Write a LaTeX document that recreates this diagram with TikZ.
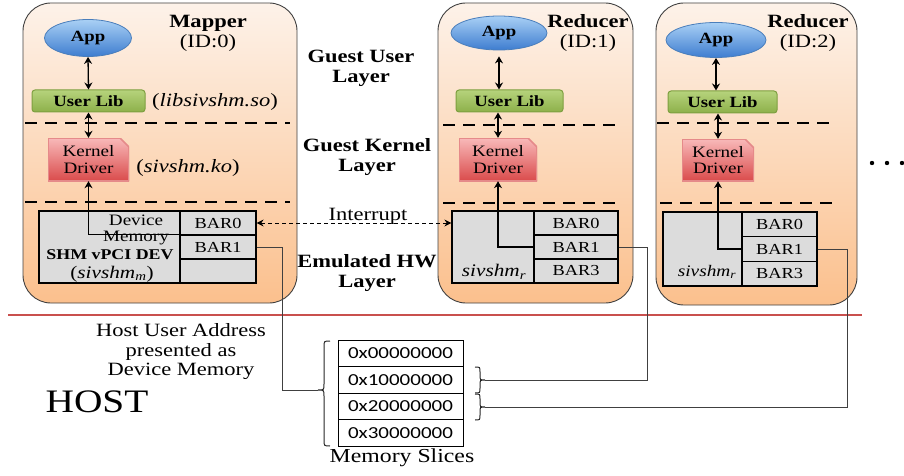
\documentclass[tikz,border=0pt]{standalone}
\usepackage{fontspec}
\setmainfont[FakeStretch=1.2]{Liberation Serif}
\newfontfamily\hexfont[FakeStretch=1.25]{Carlito}
\usetikzlibrary{arrows.meta,shapes.geometric}
\definecolor{boxtop}{HTML}{FDF2E9}
\definecolor{boxbot}{HTML}{FBC08D}
\definecolor{appt}{HTML}{A9D0F5}
\definecolor{appb}{HTML}{3E7DD0}
\definecolor{appd}{HTML}{4A7EBB}
\definecolor{ult}{HTML}{B6D37C}
\definecolor{ulb}{HTML}{8DB04A}
\definecolor{uld}{HTML}{7E9F40}
\definecolor{kdt}{HTML}{F8B9B9}
\definecolor{kdb}{HTML}{DA4B4B}
\definecolor{kdd}{HTML}{E58A8A}
\definecolor{devfill}{HTML}{DCDCDC}
\definecolor{redline}{HTML}{C9504E}
\definecolor{wirec}{HTML}{404040}
\newcommand\bigsz{\fontsize{18.75}{20}\selectfont}
\newcommand\midsz{\fontsize{15.9}{16.5}\selectfont}
\newcommand\barsz{\fontsize{15.3}{16}\selectfont}
\newcommand\appsz{\fontsize{15.6}{16}\selectfont}
\newcommand\hexsz{\fontsize{16.8}{18}\selectfont}
\begin{document}
\begin{tikzpicture}[x=1pt,y=-1pt,
  vm/.style={draw=black!75, line width=0.9pt, rounded corners=28pt, top color=boxtop, bottom color=boxbot, inner sep=0pt},
  app/.style={ellipse, draw=appd, line width=0.8pt, top color=appt, bottom color=appb, font=\appsz\bfseries, inner sep=0pt},
  ulib/.style={draw=uld, line width=1pt, rounded corners=3pt, top color=ult, bottom color=ulb, font=\appsz\bfseries, inner sep=0pt, minimum height=22pt},
  kdrv/.style={inner sep=0pt, align=center, font=\midsz,
    path picture={
      \shadedraw[top color=kdt, bottom color=kdb, draw=kdd, line width=1.6pt]
        (path picture bounding box.north west) -- ([xshift=-9pt]path picture bounding box.north east)
        -- ([yshift=-9pt]path picture bounding box.north east) -- (path picture bounding box.south east)
        -- (path picture bounding box.south west) -- cycle;
    }},
  devl/.style={draw, line width=1.2pt, fill=devfill, inner sep=0pt},
  barcell/.style={draw, line width=1.2pt, fill=devfill, inner sep=0pt, font=\barsz},
  layerline/.style={line width=2.6pt, dash pattern=on 12pt off 8pt},
  dbl/.style={{Stealth[length=7pt,width=8pt]}-{Stealth[length=7pt,width=8pt]}, line width=1.3pt},
  upar/.style={-{Stealth[length=7pt,width=8pt]}, line width=1.1pt},
  intr/.style={{Stealth[length=7pt,width=7pt]}-{Stealth[length=7pt,width=7pt]}, dash pattern=on 4pt off 3pt, line width=0.9pt},
  wire/.style={line width=1pt, draw=wirec},
  brace/.style={line width=1pt, draw=black!85},
  hexcell/.style={draw, line width=0.9pt, inner sep=0pt, minimum width=125pt, minimum height=26.5pt, font=\hexfont\hexsz}
]
\useasboundingbox (0,0) rectangle (904,476);

% ---------- Mapper ----------
\node[vm, minimum width=274, minimum height=300] (vmM) at (160,153) {};
\draw[layerline] (25,123) -- (290,123);
\draw[layerline] (25,202) -- (290,202);
\node[app, minimum width=87, minimum height=37] (appM) at (88,38) {App};
\node[ulib, minimum width=113] (ulM) at (88.5,101) {User Lib};
\node[kdrv, minimum width=81, minimum height=43] (kdM) at (88.5,159.5) {Kernel\\Driver};
\node[devl, minimum width=141, minimum height=72] (devM) at (109.5,247) {};
\node[barcell, minimum width=76, minimum height=24] (b0M) at (218,223) {BAR0};
\node[barcell, minimum width=76, minimum height=24] (b1M) at (218,247) {BAR1};
\node[barcell, minimum width=76, minimum height=24] (b2M) at (218,271) {};
\node[font=\midsz, align=center] (dmM) at (136,230) {Device\\Memory};
\node[font=\fontsize{14.9}{16}\selectfont\bfseries] (shmM) at (110,255) {SHM vPCI DEV};
\node[font=\fontsize{17.7}{18}\selectfont] (sivM) at (112,274) {(\textit{sivshm}\textsubscript{\textit{m}})};
\node[font=\bigsz, align=center] (lblM) at (208,33) {\textbf{Mapper}\\(ID:0)};
\node[font=\bigsz] (libM) at (215,102) {(\textit{libsivshm.so})};
\node[font=\bigsz] (koM) at (188,168) {(\textit{sivshm.ko})};
\draw[dbl] (appM.south) -- (ulM.north);
\draw[dbl] (ulM.south) -- (kdM.north);
\draw[upar] (b1M.north west) -| (kdM.south);

% ---------- Reducer 1 ----------
\node[vm, minimum width=195, minimum height=300] (vmR1) at (535.5,153) {};
\draw[layerline] (443,125) -- (617,125);
\draw[layerline] (443,203) -- (617,203);
\node[app, minimum width=96, minimum height=34] (appR1) at (499,33) {App};
\node[ulib, minimum width=107] (ulR1) at (509.5,101) {User Lib};
\node[kdrv, minimum width=78, minimum height=43] (kdR1) at (498,159.5) {Kernel\\Driver};
\node[devl, minimum width=82, minimum height=72] (devR1) at (493,247) {};
\node[barcell, minimum width=84, minimum height=24] (b0R1) at (576,223) {BAR0};
\node[barcell, minimum width=84, minimum height=24] (b1R1) at (576,247) {BAR1};
\node[barcell, minimum width=84, minimum height=24] (b3R1) at (576,271) {BAR3};
\node[font=\fontsize{17.7}{18}\selectfont] (sivR1) at (494,272) {\textit{sivshm}\textsubscript{\textit{r}}};
\node[font=\bigsz, align=center] (lblR1) at (588,33) {\textbf{Reducer}\\(ID:1)};
\draw[dbl] ([yshift=-6pt]appR1.south) -- (appR1.south |- ulR1.north);
\draw[dbl] (kdR1.north |- ulR1.south) -- (kdR1.north);
\draw[upar] (b1R1.west) -| (kdR1.south);

% ---------- Reducer 2 ----------
\node[vm, minimum width=201, minimum height=302] (vmR2) at (756.5,154) {};
\draw[layerline] (657,123) -- (830,123);
\draw[layerline] (660,203) -- (833,203);
\node[app, minimum width=100, minimum height=35] (appR2) at (716,40) {App};
\node[ulib, minimum width=109] (ulR2) at (722.5,102) {User Lib};
\node[kdrv, minimum width=72, minimum height=42] (kdR2) at (718,160) {Kernel\\Driver};
\node[devl, minimum width=79, minimum height=74] (devR2) at (702.5,249) {};
\node[barcell, minimum width=75, minimum height=24.7] (b0R2) at (779.5,224.3) {BAR0};
\node[barcell, minimum width=75, minimum height=24.7] (b1R2) at (779.5,249) {BAR1};
\node[barcell, minimum width=75, minimum height=24.7] (b3R2) at (779.5,273.7) {BAR3};
\node[font=\fontsize{16.1}{17}\selectfont] (sivR2) at (707,272) {\textit{sivshm}\textsubscript{\textit{r}}};
\node[font=\bigsz, align=center] (lblR2) at (808,33) {\textbf{Reducer}\\(ID:2)};
\draw[dbl] (appR2.south) -- (appR2.south |- ulR2.north);
\draw[dbl] (kdR2.north |- ulR2.south) -- (kdR2.north);
\draw[upar] (b1R2.west) -| (kdR2.south);

% dots
\fill (872,163) circle (2.2);
\fill (887,163) circle (2.2);
\fill (902,163) circle (2.2);

% ---------- layer labels ----------
\node[font=\bigsz\bfseries, align=center] (lGU) at (361,68) {Guest User\\Layer};
\node[font=\bigsz\bfseries, align=center] (lGK) at (367,157) {Guest Kernel\\Layer};
\node[font=\bigsz\bfseries, align=center] (lEH) at (367,273) {Emulated HW\\Layer};
\node[font=\bigsz] (lInt) at (368,216) {Interrupt};
\draw[intr] (b0M.east) -- (b0M.east -| devR1.west);

% ---------- host ----------
\draw[redline, line width=1.5pt] (8,315) -- (862,315);
\node[font=\fontsize{18.75}{19.5}\selectfont, align=center] (hua) at (181,352) {Host User Address\\presented as\\Device Memory};
\node[font=\fontsize{32.8}{34}\selectfont] (host) at (97,402) {HOST};

\node[hexcell] (m0) at (400.5,353.2) {0x00000000};
\node[hexcell] (m1) at (400.5,379.7) {0x10000000};
\node[hexcell] (m2) at (400.5,406.2) {0x20000000};
\node[hexcell] (m3) at (400.5,432.7) {0x30000000};
\node[font=\fontsize{19.8}{20}\selectfont] (msl) at (402,458) {Memory Slices};

\draw[brace] (330,341) .. controls (324,341) .. (324,347) -- (324,384) .. controls (324,390) .. (318,390)
  .. controls (324,390) .. (324,396) -- (324,440) .. controls (324,446) .. (330,446);
\coordinate (lbr) at (318,390);
\draw[brace] (475,367) .. controls (480,367) .. (480,372) -- (480,375) .. controls (480,380) .. (485,380)
  .. controls (480,380) .. (480,385) -- (480,388) .. controls (480,393) .. (475,393);
\coordinate (rb1) at (485,380);
\draw[brace] (475,394) .. controls (480,394) .. (480,399) -- (480,402) .. controls (480,407) .. (485,407)
  .. controls (480,407) .. (480,412) -- (480,415) .. controls (480,420) .. (475,420);
\coordinate (rb2) at (485,407);

\draw[wire] (b1M.east) -- ++(26,0) |- (lbr);
\draw[wire] (b1R1.east) -- ++(29,0) |- (rb1);
\draw[wire] (b1R2.east) -- ++(30,0) |- (rb2);
\end{tikzpicture}
\end{document}
